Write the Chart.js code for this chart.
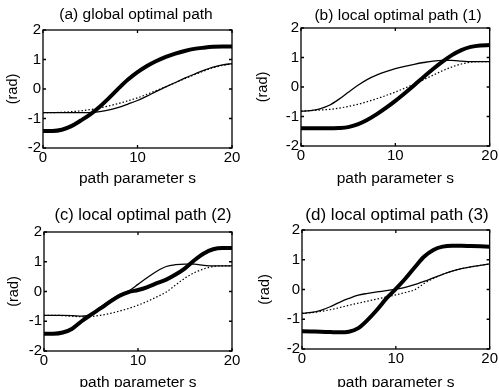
<!DOCTYPE html>
<html><head><meta charset="utf-8">
<script src="https://cdn.jsdelivr.net/npm/chart.js@4/dist/chart.umd.min.js"></script>
<style>
html,body{margin:0;padding:0;background:#fff;overflow:hidden;width:499px;height:387px;position:relative}
canvas{position:absolute;display:block}
</style></head><body>
<canvas id="ca" width="250" height="194" style="left:0;top:0"></canvas>
<canvas id="cb" width="249" height="194" style="left:250px;top:0"></canvas>
<canvas id="cc" width="250" height="200" style="left:0;top:194px"></canvas>
<canvas id="cd" width="249" height="200" style="left:250px;top:194px"></canvas>
<script>
const sValues = [0,1,2,3,4,5,6,7,8,9,10,11,12,13,14,15,16,17,18,19,20];
const xTicks = [0,10,20];
const yTicks = [-2,-1,0,1,2];
const titles = ['(a) global optimal path','(b) local optimal path (1)','(c) local optimal path (2)','(d) local optimal path (3)'];
const xLabel = 'path parameter s';
const yLabel = '(rad)';

const aThick  = [-1.42,-1.42,-1.38,-1.26,-1.07,-0.86,-0.6,-0.3,0.02,0.32,0.57,0.78,0.95,1.09,1.2,1.29,1.36,1.4,1.43,1.44,1.44];
const aThin   = [-0.8,-0.8,-0.8,-0.8,-0.8,-0.8,-0.77,-0.71,-0.62,-0.51,-0.39,-0.24,-0.08,0.07,0.22,0.37,0.5,0.63,0.74,0.82,0.86];
const aDotted = [-0.8,-0.8,-0.79,-0.77,-0.74,-0.7,-0.64,-0.57,-0.49,-0.4,-0.3,-0.18,-0.05,0.08,0.21,0.35,0.48,0.61,0.72,0.8,0.85];

const bThick  = [-1.4,-1.4,-1.4,-1.4,-1.39,-1.36,-1.27,-1.12,-0.93,-0.71,-0.47,-0.21,0.06,0.34,0.61,0.86,1.08,1.25,1.36,1.41,1.42];
const bThin   = [-0.82,-0.8,-0.74,-0.62,-0.42,-0.18,0.05,0.25,0.4,0.52,0.62,0.7,0.77,0.83,0.88,0.9,0.9,0.88,0.86,0.86,0.86];
const bDotted = [-0.82,-0.8,-0.78,-0.76,-0.72,-0.66,-0.59,-0.5,-0.4,-0.29,-0.17,-0.04,0.1,0.25,0.4,0.55,0.68,0.78,0.84,0.86,0.86];

const cThick  = [-1.42,-1.42,-1.38,-1.25,-1.0,-0.78,-0.57,-0.35,-0.15,-0.02,0.05,0.15,0.28,0.4,0.57,0.78,1.05,1.28,1.42,1.46,1.46];
const cThin   = [-0.8,-0.8,-0.8,-0.81,-0.83,-0.78,-0.52,-0.3,-0.1,0.02,0.24,0.47,0.68,0.84,0.9,0.92,0.92,0.88,0.86,0.86,0.86];
const cDotted = [-0.8,-0.8,-0.81,-0.83,-0.85,-0.84,-0.8,-0.74,-0.66,-0.57,-0.46,-0.33,-0.18,-0.02,0.22,0.45,0.63,0.76,0.84,0.86,0.86];

const dThick  = [-1.4,-1.41,-1.42,-1.43,-1.44,-1.42,-1.3,-1.02,-0.68,-0.3,0.02,0.36,0.74,1.1,1.33,1.44,1.47,1.47,1.46,1.45,1.44];
const dThin   = [-0.8,-0.77,-0.7,-0.58,-0.43,-0.3,-0.19,-0.13,-0.08,-0.04,0.01,0.07,0.16,0.27,0.39,0.51,0.62,0.7,0.76,0.81,0.86];
const dDotted = [-0.8,-0.78,-0.74,-0.68,-0.61,-0.53,-0.46,-0.39,-0.32,-0.25,-0.18,-0.1,-0.01,0.2,0.37,0.51,0.62,0.7,0.76,0.81,0.86];

const F = '"Liberation Sans", Arial, sans-serif';

const boxTicks = {
  id: 'boxTicks',
  afterDatasetsDraw(chart, args, opts) {
    const {ctx, chartArea: {left, top, right, bottom}, scales: {x, y}} = chart;
    ctx.save();
    ctx.strokeStyle = '#000';
    ctx.lineWidth = 1.3;
    ctx.strokeRect(left, top, right - left, bottom - top);
    const len = 3;
    ctx.beginPath();
    x.ticks.forEach(t => {
      const px = x.getPixelForValue(t.value);
      ctx.moveTo(px, bottom); ctx.lineTo(px, bottom - len);
      ctx.moveTo(px, top); ctx.lineTo(px, top + len);
    });
    y.ticks.forEach(t => {
      const py = y.getPixelForValue(t.value);
      ctx.moveTo(left, py); ctx.lineTo(left + len, py);
      ctx.moveTo(right, py); ctx.lineTo(right - len, py);
    });
    ctx.stroke();
    ctx.fillStyle = '#000';
    ctx.font = opts.size + 'px ' + F;
    ctx.textAlign = 'center';
    ctx.textBaseline = 'middle';
    ctx.fillText(opts.text, opts.cx, opts.cy);
    ctx.restore();
  }
};

function makeChart(id, g, thick, thin, dotted, title) {
  const mk = arr => sValues.map((s, i) => ({x: s, y: arr[i]}));
  const base = {pointRadius: 0, borderColor: '#000', fill: false, tension: 0.4, cubicInterpolationMode: 'monotone'};
  new Chart(document.getElementById(id), {
    type: 'line',
    data: {datasets: [
      Object.assign({data: mk(dotted), borderWidth: 1.2, borderDash: [1.5, 2]}, base),
      Object.assign({data: mk(thin), borderWidth: 1.3}, base),
      Object.assign({data: mk(thick), borderWidth: 4}, base)
    ]},
    options: {
      responsive: false, animation: false, events: [],
      layout: {padding: {left: 0, top: g.T, right: g.W - g.R, bottom: 0}},
      plugins: {
        legend: {display: false}, tooltip: {enabled: false},
        boxTicks: {text: title, cx: g.tx, cy: g.ty, size: g.ts}
      },
      scales: {
        x: {
          type: 'linear', min: 0, max: 20,
          afterBuildTicks: s => { s.ticks = xTicks.map(v => ({value: v})); },
          afterFit: s => { s.height = g.H - g.B; },
          grid: {display: false, drawTicks: false}, border: {display: false},
          ticks: {color: '#000', font: {family: F, size: 15}, padding: 1, maxRotation: 0, autoSkip: false},
          title: {display: true, text: xLabel, color: '#000', font: {family: F, size: 15.5}, padding: {top: 0, bottom: g.xp}}
        },
        y: {
          type: 'linear', min: -2, max: 2,
          afterBuildTicks: s => { s.ticks = yTicks.map(v => ({value: v})); },
          afterFit: s => { s.width = g.L; },
          grid: {display: false, drawTicks: false}, border: {display: false},
          ticks: {color: '#000', font: {family: F, size: 15}, padding: 2, autoSkip: false},
          title: {display: true, text: yLabel, color: '#000', font: {family: F, size: 14.5}, padding: {top: g.yp, bottom: 0}}
        }
      }
    },
    plugins: [boxTicks]
  });
}

makeChart('ca', {W:250,H:194,L:43,T:30,R:232,B:148,tx:136,ty:15,ts:15.5,xp:5.7,yp:4.3}, aThick, aThin, aDotted, titles[0]);
makeChart('cb', {W:249,H:194,L:51,T:28,R:241,B:146,tx:148,ty:16,ts:15.5,xp:5.7,yp:3.8}, bThick, bThin, bDotted, titles[1]);
makeChart('cc', {W:250,H:200,L:44,T:38,R:232,B:157,tx:143,ty:21.5,ts:16.5,xp:1.7,yp:5.3}, cThick, cThin, cDotted, titles[2]);
makeChart('cd', {W:249,H:200,L:52,T:36,R:241,B:155,tx:147,ty:21.5,ts:17,xp:1.7,yp:6.3}, dThick, dThin, dDotted, titles[3]);
</script>
</body></html>
